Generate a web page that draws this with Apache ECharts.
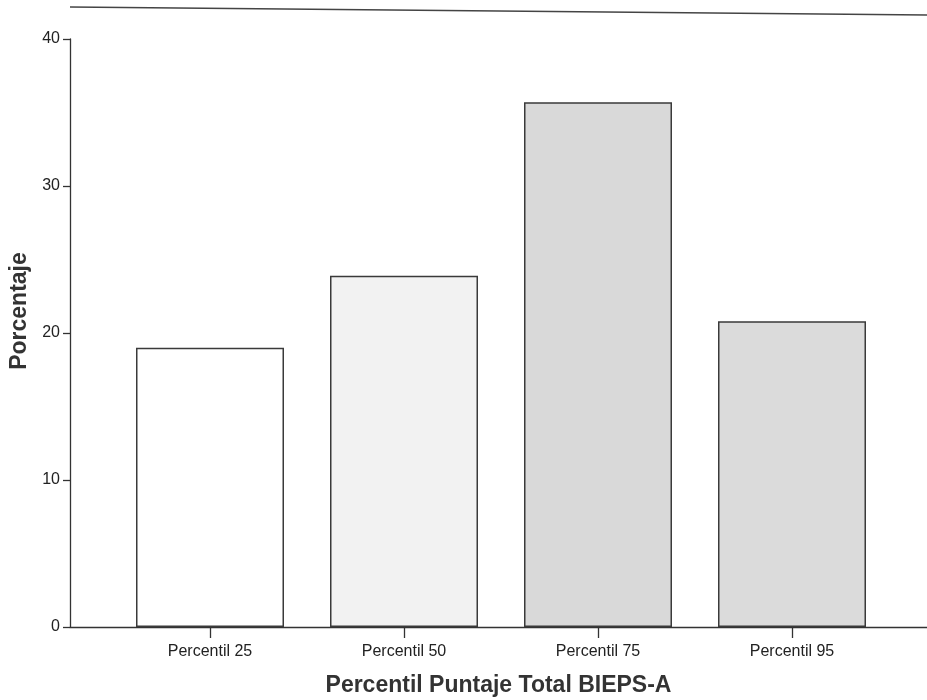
<!DOCTYPE html>
<html>
<head>
<meta charset="utf-8">
<script src="https://cdn.jsdelivr.net/npm/echarts@6/dist/echarts.min.js"></script>
<style>html,body{margin:0;padding:0;background:#fff}#c{width:927px;height:700px}</style>
</head>
<body>
<div id="c"></div>
<script>
const categories = ['Percentil 25', 'Percentil 50', 'Percentil 75', 'Percentil 95'];
const values = [19.0, 23.9, 35.7, 20.8];
const barColors = ['#ffffff', '#f2f2f2', '#d9d9d9', '#dbdbdb'];
const yTicks = [0, 10, 20, 30, 40];
const xTitle = 'Percentil Puntaje Total BIEPS-A';
const yTitle = 'Porcentaje';

const chart = echarts.init(document.getElementById('c'), null, {renderer: 'canvas'});
const font = 'Liberation Sans, Arial, sans-serif';
chart.setOption({
  backgroundColor: '#ffffff',
  animation: false,
  grid: [
    {left: 70, right: 0, top: 39, bottom: 73, containLabel: false, outerBoundsMode: 'none'},
    {left: 113, right: 38, top: 39, bottom: 73, containLabel: false, outerBoundsMode: 'none'}
  ],
  xAxis: [
    {
      gridIndex: 0, type: 'value', min: 0, max: 1,
      axisLine: {show: true, lineStyle: {color: '#333', width: 1.3}},
      axisTick: {show: false}, axisLabel: {show: false}, splitLine: {show: false},
      name: xTitle, nameLocation: 'middle', nameGap: 47,
      nameTextStyle: {fontFamily: font, fontWeight: 'bold', fontSize: 23, color: '#333'}
    },
    {
      gridIndex: 1, type: 'category', data: categories,
      axisLine: {show: false},
      axisTick: {show: true, alignWithLabel: true, length: 11, lineStyle: {color: '#333', width: 1.3}},
      axisLabel: {fontFamily: font, fontSize: 16, color: '#222', margin: 17}
    }
  ],
  yAxis: [
    {
      gridIndex: 0, type: 'value', min: yTicks[0], max: yTicks[yTicks.length - 1], interval: 10,
      axisLine: {show: true, lineStyle: {color: '#333', width: 1.3}},
      axisTick: {show: true, length: 7, lineStyle: {color: '#333', width: 1.3}},
      axisLabel: {fontFamily: font, fontSize: 16, color: '#222', margin: 10},
      splitLine: {show: false},
      name: yTitle, nameLocation: 'middle', nameGap: 31,
      nameTextStyle: {fontFamily: font, fontWeight: 'bold', fontSize: 23, color: '#333', padding: [0, 0, 0, 44]}
    },
    {
      gridIndex: 1, type: 'value', min: 0, max: 40, show: false, splitLine: {show: false}
    }
  ],
  series: [{
    type: 'bar', xAxisIndex: 1, yAxisIndex: 1,
    data: values.map((v, i) => ({value: v, itemStyle: {color: barColors[i]}})),
    barWidth: 148,
    itemStyle: {borderColor: '#3a3a3a', borderWidth: 1.5}
  }],
  graphic: [{
    type: 'line', shape: {x1: 70, y1: 7, x2: 927, y2: 15},
    style: {stroke: '#444', lineWidth: 1.3}, silent: true
  }]
});
</script>
</body>
</html>
